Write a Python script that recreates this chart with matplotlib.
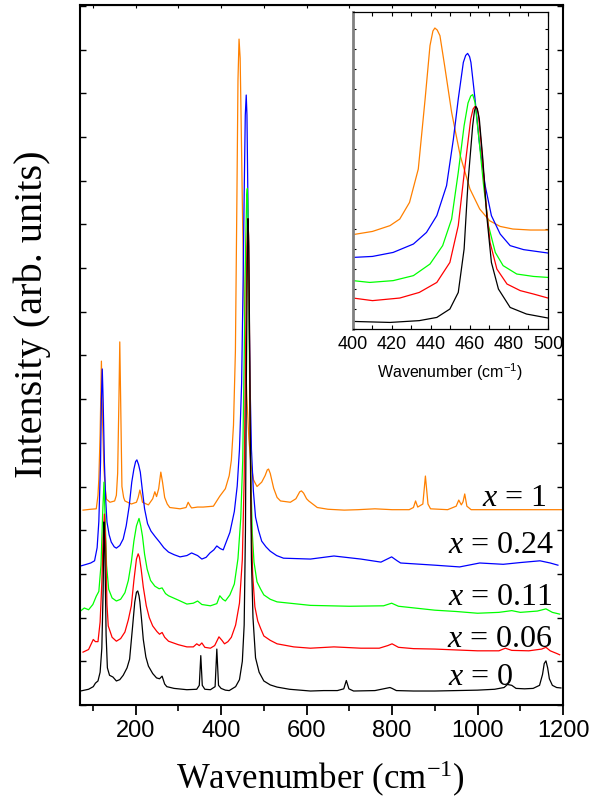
import matplotlib
matplotlib.use('Agg')
import matplotlib.pyplot as plt
from matplotlib.ticker import MultipleLocator

plt.rcParams['mathtext.fontset'] = 'custom'
plt.rcParams['mathtext.it'] = 'Liberation Serif:italic'
plt.rcParams['mathtext.rm'] = 'Liberation Serif'
plt.rcParams['mathtext.default'] = 'regular'

# Raman spectra, main panel (wavenumber in cm-1, intensity in arb. units, offset)
wn_x0 = [71, 90, 101, 106, 112, 117, 121, 124, 126, 128, 131, 134, 139, 147, 155, 163, 171, 180,
         186, 193, 198, 202, 205, 208, 210, 214, 218, 224, 230, 240, 249, 256, 262, 268, 273, 290,
         320, 343, 349, 352.5, 356, 362, 375, 386, 390, 394, 400, 410, 419, 434, 443, 449.7, 454,
         457, 459, 461.4, 463, 464.8, 466.6, 468.6, 471, 474.6, 480.6, 489, 500, 515, 531, 560,
         609, 640, 672, 687, 693, 699, 710, 760, 795, 800, 810, 850, 900, 950, 1000, 1040, 1062,
         1070, 1080, 1090, 1110, 1130, 1145, 1152, 1156, 1160, 1164, 1168, 1175, 1185, 1195]
int_x0 = [0.32, 0.36, 0.42, 0.50, 0.55, 0.75, 1.3, 2.6, 4.19, 3.6, 1.6, 0.85, 0.68, 0.64, 0.55,
          0.58, 0.68, 0.85, 1.05, 1.8, 2.35, 2.58, 2.61, 2.5, 2.36, 1.95, 1.5, 1.1, 0.89, 0.72,
          0.62, 0.6, 0.66, 0.48, 0.42, 0.38, 0.35, 0.36, 0.45, 1.13, 0.45, 0.36, 0.35, 0.42, 1.28,
          0.45, 0.38, 0.34, 0.33, 0.42, 0.58, 1.0, 1.83, 4.0, 7.33, 10.17, 11.13, 10.5, 8.5, 5.67,
          3.33, 2.0, 1.08, 0.75, 0.55, 0.46, 0.41, 0.36, 0.32, 0.33, 0.33, 0.37, 0.56, 0.37, 0.32,
          0.33, 0.40, 0.38, 0.33, 0.32, 0.32, 0.33, 0.34, 0.36, 0.40, 0.47, 0.45, 0.38, 0.37, 0.38,
          0.45, 0.7, 0.95, 1.01, 0.85, 0.6, 0.45, 0.4, 0.39]

wn_x006 = [77, 90, 101, 106, 112, 117, 121, 124, 127, 130, 133, 136, 145, 155, 165, 175, 183, 190,
           196, 202, 206, 209, 213, 218, 225, 232, 240, 250, 256, 262, 268, 277, 300, 320, 335,
           343, 349, 355, 362, 375, 385, 395, 402, 408, 416, 424, 434, 443, 449.7, 454, 457.5,
           460.4, 462.6, 464.3, 466, 468.3, 470.3, 473.8, 479, 485.8, 492.6, 500, 515, 531, 570,
           609, 664, 727, 770, 790, 800, 815, 850, 900, 950, 1000, 1050, 1065, 1080, 1120, 1150,
           1160, 1170, 1185, 1192]
int_x006 = [1.21, 1.27, 1.50, 1.45, 1.45, 1.9, 2.8, 3.8, 4.37, 3.7, 2.3, 1.81, 1.55, 1.46, 1.52,
            1.67, 1.95, 2.27, 2.85, 3.34, 3.46, 3.38, 3.11, 2.7, 2.27, 2.0, 1.81, 1.68, 1.62, 1.66,
            1.55, 1.46, 1.38, 1.33, 1.33, 1.40, 1.36, 1.42, 1.32, 1.30, 1.36, 1.56, 1.48, 1.40,
            1.45, 1.55, 1.83, 2.33, 3.33, 5.17, 8.17, 10.5, 11.13, 10.75, 9.0, 6.17, 4.33, 3.0,
            2.25, 1.92, 1.75, 1.58, 1.48, 1.40, 1.33, 1.30, 1.33, 1.30, 1.30, 1.36, 1.40, 1.32,
            1.29, 1.28, 1.26, 1.24, 1.24, 1.30, 1.25, 1.24, 1.28, 1.32, 1.24, 1.18, 1.15]

wn_x011 = [71, 80, 90, 100, 108, 114, 119, 123, 126, 129, 132, 137, 145, 155, 165, 175, 183, 190,
           196, 202, 208, 212, 216, 221, 227, 235, 245, 255, 262, 270, 277, 300, 320, 335, 345,
           355, 375, 390, 397, 404, 410, 420.6, 431, 439.5, 446, 450.6, 454, 457, 460, 461.4,
           462.6, 464.8, 467, 469.5, 473, 477, 484, 492.6, 500, 515, 531, 609, 700, 780, 799, 815,
           900, 950, 1000, 1050, 1080, 1100, 1140, 1160, 1175, 1192]
int_x011 = [2.15, 2.22, 2.18, 2.30, 2.49, 2.6, 3.2, 4.4, 5.1, 4.2, 3.2, 2.65, 2.45, 2.38, 2.42,
            2.57, 2.85, 3.27, 3.75, 4.10, 4.27, 4.1, 3.87, 3.45, 3.11, 2.85, 2.72, 2.66, 2.68,
            2.55, 2.50, 2.40, 2.31, 2.33, 2.38, 2.30, 2.27, 2.32, 2.50, 2.42, 2.38, 2.52, 2.77,
            3.35, 4.27, 5.6, 7.93, 10.27, 11.68, 11.82, 11.43, 9.43, 7.27, 5.27, 3.93, 3.27, 2.82,
            2.65, 2.52, 2.42, 2.36, 2.28, 2.26, 2.27, 2.33, 2.26, 2.17, 2.14, 2.10, 2.12, 2.16,
            2.12, 2.15, 2.2, 2.12, 2.08]

wn_x024 = [71, 85, 95, 104, 110, 114, 118, 120, 122, 124, 127, 130, 133, 138, 143, 150, 155, 163,
           171, 178, 185, 191, 196, 200, 203, 207, 211, 216, 221, 228, 236, 246, 256, 266, 277,
           290, 304, 320, 331, 345, 355, 365, 374, 383, 390, 398, 405, 410, 420.6, 431, 437.7,
           443, 448, 451.5, 454, 456.6, 458.8, 460.5, 462.6, 464.8, 467.8, 471, 475.5, 480.6,
           487.5, 495, 505, 515, 530, 546, 609, 664, 727, 774, 799, 812, 820, 900, 958, 1005,
           1060, 1100, 1146, 1170, 1188]
int_x024 = [3.18, 3.22, 3.25, 3.30, 3.6, 4.2, 5.56, 7.0, 7.69, 7.0, 5.56, 4.7, 4.19, 3.9, 3.73,
            3.62, 3.59, 3.65, 3.80, 4.1, 4.55, 5.1, 5.40, 5.57, 5.61, 5.5, 5.33, 4.9, 4.49, 4.15,
            3.98, 3.85, 3.73, 3.6, 3.50, 3.44, 3.39, 3.42, 3.48, 3.42, 3.34, 3.38, 3.48, 3.55,
            3.64, 3.58, 3.55, 3.68, 3.95, 4.43, 5.01, 5.85, 7.35, 9.68, 11.68, 13.5, 13.96, 13.5,
            11.68, 9.5, 7.35, 5.85, 4.9, 4.3, 4.0, 3.75, 3.62, 3.52, 3.42, 3.36, 3.34, 3.41, 3.34,
            3.27, 3.39, 3.30, 3.25, 3.20, 3.16, 3.25, 3.22, 3.26, 3.30, 3.25, 3.20]

wn_x1 = [77, 95, 108, 112, 114, 117, 120, 123, 126, 129, 132, 140, 151, 155, 158, 161, 163, 165,
         168, 172, 175, 190, 202, 206, 210, 213, 216, 230, 240, 245, 249, 254, 259, 263, 268, 274,
         280, 304, 318, 323, 328, 331, 345, 358, 382, 397, 410, 419, 424, 429, 433.5, 437, 439.5,
         442, 444.6, 447, 450.6, 455, 460, 465, 470, 476, 484, 495, 503, 508, 511, 515, 523, 531,
         539, 562, 575, 584, 588, 593, 600, 605, 625, 650, 688, 720, 760, 800, 840, 850, 855, 860,
         872, 878, 884, 890, 930, 950, 956, 962, 966, 970, 975, 985, 1050, 1150, 1200]
int_x1 = [4.46, 4.48, 4.49, 4.8, 5.17, 6.2, 7.87, 6.4, 5.4, 4.95, 4.71, 4.64, 4.67, 4.8, 5.3, 7.0,
          8.31, 7.0, 5.0, 4.75, 4.67, 4.60, 4.64, 4.75, 4.92, 4.8, 4.64, 4.58, 4.72, 4.88, 4.77,
          4.95, 5.33, 5.1, 4.75, 4.6, 4.52, 4.49, 4.52, 4.64, 4.55, 4.51, 4.53, 4.53, 4.55, 4.78,
          4.95, 5.25, 5.6, 6.4, 8.1, 11.6, 14.3, 15.24, 14.8, 13.3, 10.9, 8.75, 7.1, 6.1, 5.5,
          5.15, 5.0, 5.1, 5.25, 5.38, 5.40, 5.3, 4.96, 4.75, 4.67, 4.64, 4.72, 4.88, 4.90, 4.85,
          4.72, 4.67, 4.52, 4.48, 4.46, 4.47, 4.49, 4.47, 4.47, 4.52, 4.67, 4.53, 4.6, 5.24, 4.6,
          4.49, 4.47, 4.55, 4.69, 4.58, 4.65, 4.83, 4.55, 4.47, 4.47, 4.47, 4.47]

# inset: 400-500 cm-1 region
in_wn_x0 = [400, 419, 434, 443, 449.7, 454, 457, 459, 461.4, 462.3, 463, 463.8, 464.8, 466.6,
            468.6, 471, 474.6, 480.6, 489, 500]
in_int_x0 = [0.38, 0.33, 0.42, 0.58, 1.0, 1.83, 4.0, 7.33, 10.17, 10.9, 11.13, 11.0, 10.5, 8.5,
             5.67, 3.33, 2.0, 1.08, 0.75, 0.55]
in_wn_x006 = [400, 410, 424, 434, 443, 449.7, 454, 457.5, 460.4, 461.6, 462.6, 463.5, 464.3, 466,
              468.3, 470.3, 473.8, 479, 485.8, 492.6, 500]
in_int_x006 = [1.55, 1.42, 1.55, 1.83, 2.33, 3.33, 5.17, 8.17, 10.5, 11.0, 11.13, 11.05, 10.75,
               9.0, 6.17, 4.33, 3.0, 2.25, 1.92, 1.75, 1.55]
in_wn_x011 = [400, 408.6, 420.6, 431, 439.5, 446, 450.6, 454, 457, 459, 460.4, 461.4, 462.6, 464.8,
              467, 469.5, 473, 477, 484, 492.6, 500]
in_int_x011 = [2.42, 2.33, 2.42, 2.67, 3.25, 4.17, 5.5, 7.83, 10.17, 11.3, 11.65, 11.72, 11.33,
               9.33, 7.17, 5.17, 3.83, 3.17, 2.75, 2.63, 2.58]
in_wn_x024 = [400, 410, 420.6, 431, 437.7, 443, 448, 451.5, 454, 456.6, 457.8, 458.8, 459.8,
              460.5, 462.6, 464.8, 467.8, 471, 475.5, 480.6, 487.5, 500]
in_int_x024 = [3.58, 3.63, 3.83, 4.25, 4.83, 5.67, 7.17, 9.5, 11.5, 13.33, 13.68, 13.78, 13.62,
               13.33, 11.5, 9.33, 7.17, 5.67, 4.75, 4.17, 3.97, 3.8]
in_wn_x1 = [400, 410, 419, 424, 429, 433.5, 437, 439.5, 441, 442, 443.2, 444.6, 447, 450.6, 455,
            460, 465, 470, 475.5, 482, 491, 500]
in_int_x1 = [4.72, 4.88, 5.17, 5.5, 6.33, 8.0, 11.5, 14.17, 14.9, 15.05, 14.95, 14.67, 13.17,
             10.83, 8.67, 7.0, 6.0, 5.42, 5.13, 5.0, 4.95, 4.95]

labels = [r'$\mathit{x}$ = 1', r'$\mathit{x}$ = 0.24', r'$\mathit{x}$ = 0.11',
          r'$\mathit{x}$ = 0.06', r'$\mathit{x}$ = 0']
label_wn = [1010, 932, 932, 928, 932]
label_int = [4.58, 3.50, 2.31, 1.35, 0.48]
colors = ['#ff8000', '#0000ff', '#00ff00', '#ff0000', 'black']

fig = plt.figure(figsize=(6.04, 8.03), dpi=100)
ax = fig.add_axes([0.1325, 0.1208, 0.7997, 0.8717])

main_series = [(wn_x1, int_x1), (wn_x024, int_x024), (wn_x011, int_x011),
               (wn_x006, int_x006), (wn_x0, int_x0)]
for (wn, it), c in zip(main_series, colors):
    ax.plot(wn, it, color=c, lw=0.9)

for lab, xw, yi in zip(labels, label_wn, label_int):
    ax.text(xw, yi, lab, fontfamily='Liberation Serif', fontsize=23, va='baseline', ha='left')

ax.set_xlim(70, 1200)
ax.set_ylim(0, 16.02)
ax.xaxis.set_major_locator(MultipleLocator(200))
ax.xaxis.set_minor_locator(MultipleLocator(100))
ax.yaxis.set_major_locator(MultipleLocator(1))
ax.tick_params(axis='x', which='major', direction='out', length=7, width=1.3, labelsize=17,
               labelfontfamily='Liberation Sans', pad=3)
ax.tick_params(axis='x', which='minor', direction='out', length=4, width=1.2)
ax.tick_params(axis='y', which='major', direction='in', length=4, width=1.0, left=True,
               right=True, labelleft=False)
for sp in ax.spines.values():
    sp.set_linewidth(1.5)
top = ax.secondary_xaxis('top')
top.set_xticks(range(100, 1201, 100))
top.tick_params(direction='in', length=2, width=0.8, labeltop=False)

ax.set_xlabel('Wavenumber (cm$^{-1}$)', fontfamily='Liberation Serif', fontsize=25)
ax.xaxis.set_label_coords(0.497, -0.075)
ax.set_ylabel('Intensity (arb. units)', fontfamily='Liberation Serif', fontsize=29)
ax.yaxis.set_label_coords(-0.06, 0.56)

# inset
axi = fig.add_axes([0.5844, 0.589, 0.3228, 0.3948])
inset_series = [(in_wn_x1, in_int_x1), (in_wn_x024, in_int_x024), (in_wn_x011, in_int_x011),
                (in_wn_x006, in_int_x006), (in_wn_x0, in_int_x0)]
for (wn, it), c in zip(inset_series, colors):
    axi.plot(wn, it, color=c, lw=0.9)
axi.set_xlim(400, 500)
axi.set_ylim(0, 15.85)
axi.xaxis.set_major_locator(MultipleLocator(20))
axi.xaxis.set_minor_locator(MultipleLocator(10))
axi.yaxis.set_major_locator(MultipleLocator(1))
axi.tick_params(axis='x', which='both', direction='in', length=3, width=0.8, labelsize=13,
                labelfontfamily='Liberation Sans', top=True, pad=4)
axi.tick_params(axis='y', which='major', direction='in', length=2.5, width=0.8, left=True,
                right=True, labelleft=False)
for sp in axi.spines.values():
    sp.set_linewidth(0.9)
axi.spines['left'].set_color('#808080')
axi.spines['left'].set_linewidth(2)
axi.set_xlabel('Wavenumber (cm$^{-1}$)', fontfamily='Liberation Sans', fontsize=11.5)
axi.xaxis.set_label_coords(0.497, -0.1)

fig.savefig('out.png', dpi=100)
